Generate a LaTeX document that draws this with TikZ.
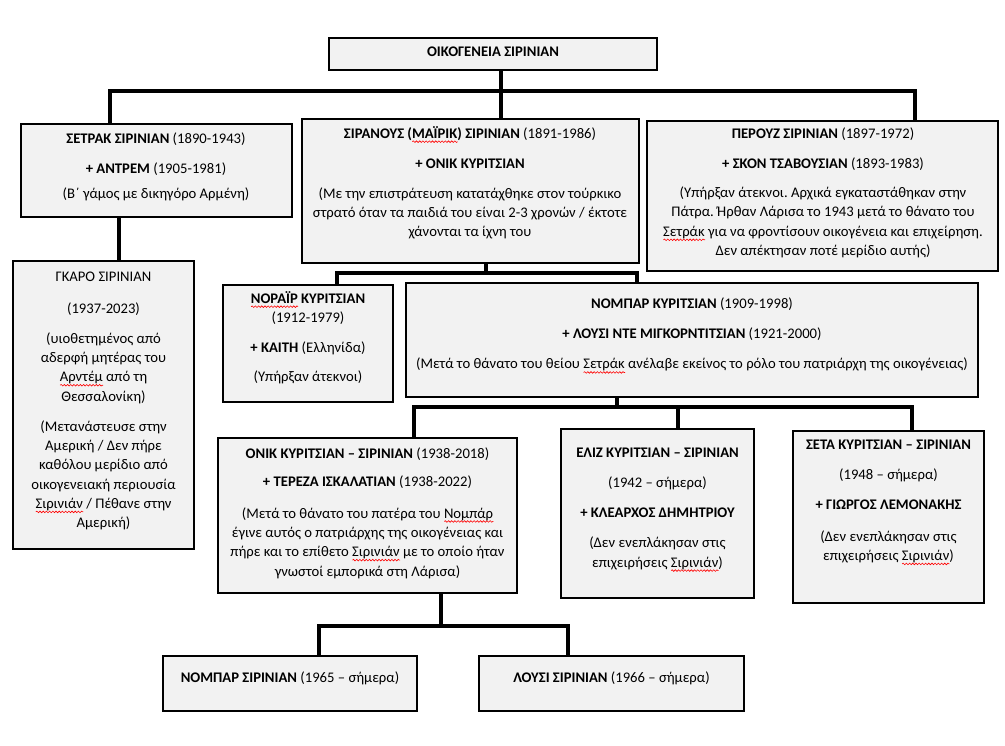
\documentclass[tikz,border=0pt]{standalone}
\usepackage{fontspec}
\setmainfont{Carlito}
\usetikzlibrary{fit,decorations.pathmorphing}
\definecolor{boxgray}{HTML}{F2F2F2}
\frenchspacing
\newsavebox\sqbox
\newcommand\spellerr[1]{\sbox\sqbox{#1}\rlap{\tikz[baseline=0pt,x=1pt,y=1pt]\draw[red, line width=0.45pt, decorate, decoration={snake, amplitude=0.6pt, segment length=2.4pt}] (0,-2.6) -- (\wd\sqbox,-2.6);}\usebox\sqbox}
\begin{document}
\begin{tikzpicture}[x=0.75pt,y=-0.75pt,
  box/.style={draw=black, line width=1pt, fill=boxgray, inner sep=0pt, outer sep=0pt},
  txt/.style={anchor=north, align=center, inner sep=0pt, font=\fontsize{11}{14.5}\selectfont\frenchspacing, execute at begin node=\strut},
  conn/.style={line width=3pt, line join=miter}]
\fill[white] (0,0) rectangle (1005,745);
\useasboundingbox (0,0) rectangle (1005,745);

% boxes
\node[box, fit={(329,38) (657,70)}] (root) {};
\node[box, fit={(21,124) (292,217)}] (setrak) {};
\node[box, fit={(302,119) (639,263)}] (siranous) {};
\node[box, fit={(647,121) (998,271)}] (perouz) {};
\node[box, fit={(13,261) (194,549)}] (garo) {};
\node[box, fit={(223,285) (393,402)}] (norair) {};
\node[box, fit={(406,283) (978,397)}] (nompar) {};
\node[box, fit={(218,438) (517,593)}] (onik) {};
\node[box, fit={(561,429) (754,598)}] (eliz) {};
\node[box, fit={(793,431) (984,603)}] (seta) {};
\node[box, fit={(163,656) (417,711)}] (ns) {};
\node[box, fit={(479,656) (744,711)}] (lousi) {};

% texts
\node[txt] (rootT) at (493,43) {\textbf{ΟΙΚΟΓΕΝΕΙΑ ΣΙΡΙΝΙΑΝ}};
\node[txt] (setrakT) at (156,133) {\textbf{ΣΕΤΡΑΚ ΣΙΡΙΝΙΑΝ} (1890-1943)\\[8pt]
  \textbf{+ ΑΝΤΡΕΜ} (1905-1981)\\[4pt]
  (Β΄ γάμος με δικηγόρο Αρμένη)};
\node[txt] (siranousT) at (470,126) {\textbf{ΣΙΡΑΝΟΥΣ (\spellerr{ΜΑΪΡΙΚ}) ΣΙΡΙΝΙΑΝ} (1891-1986)\\[8pt]
  \textbf{+ ΟΝΙΚ ΚΥΡΙΤΣΙΑΝ}\\[8pt]
  (Με την επιστράτευση κατατάχθηκε στον τούρκικο\\
  στρατό όταν τα παιδιά του είναι 2-3 χρονών / έκτοτε\\
  χάνονται τα ίχνη του};
\node[txt] (perouzT) at (823,128) {\textbf{ΠΕΡΟΥΖ ΣΙΡΙΝΙΑΝ} (1897-1972)\\[8pt]
  \textbf{+ ΣΚΟΝ ΤΣΑΒΟΥΣΙΑΝ} (1893-1983)\\[7pt]
  (Υπήρξαν άτεκνοι. Αρχικά εγκαταστάθηκαν στην\\
  Πάτρα. Ήρθαν Λάρισα το 1943 μετά το θάνατο του\\
  \spellerr{Σετράκ} για να φροντίσουν οικογένεια και επιχείρηση.\\
  Δεν απέκτησαν ποτέ μερίδιο αυτής)};
\node[txt] (garoT) at (103.5,272) {ΓΚΑΡΟ ΣΙΡΙΝΙΑΝ\\[9pt]
  (1937-2023)\\[8pt]
  (υιοθετημένος από\\
  αδερφή μητέρας του\\
  \spellerr{Αρντέμ} από τη\\
  Θεσσαλονίκη)\\[8pt]
  (Μετανάστευσε στην\\
  Αμερική / Δεν πήρε\\
  καθόλου μερίδιο από\\
  οικογενειακή περιουσία\\
  \spellerr{Σιρινιάν} / Πέθανε στην\\
  Αμερική)};
\node[txt] (norairT) at (308,291) {\textbf{\spellerr{ΝΟΡΑΪΡ} ΚΥΡΙΤΣΙΑΝ}\\
  (1912-1979)\\[8pt]
  \textbf{+ ΚΑΙΤΗ} (Ελληνίδα)\\[7pt]
  (Υπήρξαν άτεκνοι)};
\node[txt] (nomparT) at (692,298) {\textbf{ΝΟΜΠΑΡ ΚΥΡΙΤΣΙΑΝ} (1909-1998)\\[8pt]
  \textbf{+ ΛΟΥΣΙ ΝΤΕ ΜΙΓΚΟΡΝΤΙΤΣΙΑΝ} (1921-2000)\\[8pt]
  (Μετά το θάνατο του θείου \spellerr{Σετράκ} ανέλαβε εκείνος το ρόλο του πατριάρχη της οικογένειας)};
\node[txt] (onikT) at (367.5,447) {\textbf{ΟΝΙΚ ΚΥΡΙΤΣΙΑΝ – ΣΙΡΙΝΙΑΝ} (1938-2018)\\[7pt]
  \textbf{+ ΤΕΡΕΖΑ ΙΣΚΑΛΑΤΙΑΝ} (1938-2022)\\[9pt]
  (Μετά το θάνατο του πατέρα του \spellerr{Νομπάρ}\\
  έγινε αυτός ο πατριάρχης της οικογένειας και\\
  πήρε και το επίθετο \spellerr{Σιρινιάν} με το οποίο ήταν\\
  γνωστοί εμπορικά στη Λάρισα)};
\node[txt] (elizT) at (657.5,448) {\textbf{ΕΛΙΖ ΚΥΡΙΤΣΙΑΝ – ΣΙΡΙΝΙΑΝ}\\[8pt]
  (1942 – σήμερα)\\[8pt]
  \textbf{+ ΚΛΕΑΡΧΟΣ ΔΗΜΗΤΡΙΟΥ}\\[8pt]
  (Δεν ενεπλάκησαν στις\\
  επιχειρήσεις \spellerr{Σιρινιάν})};
\node[txt] (setaT) at (888.5,440) {\textbf{ΣΕΤΑ ΚΥΡΙΤΣΙΑΝ – ΣΙΡΙΝΙΑΝ}\\[8pt]
  (1948 – σήμερα)\\[8pt]
  \textbf{+ ΓΙΩΡΓΟΣ ΛΕΜΟΝΑΚΗΣ}\\[9pt]
  (Δεν ενεπλάκησαν στις\\
  επιχειρήσεις \spellerr{Σιρινιάν})};
\node[txt] (nsT) at (290,669) {\textbf{ΝΟΜΠΑΡ ΣΙΡΙΝΙΑΝ} (1965 – σήμερα)};
\node[txt] (lousiT) at (611.5,669) {\textbf{ΛΟΥΣΙ ΣΙΡΙΝΙΑΝ} (1966 – σήμερα)};

% junction coordinates
\coordinate (j1) at (501,91);
\coordinate (c1) at (110,91);
\coordinate (c2) at (915,91);
\coordinate (j2) at (486,273);
\coordinate (c3) at (337,273);
\coordinate (c4) at (637,273);
\coordinate (c5) at (119,240);
\coordinate (j3) at (617,407);
\coordinate (c6) at (414,407);
\coordinate (c7) at (912,407);
\coordinate (c8) at (678,407);
\coordinate (j4) at (441,626);
\coordinate (c9) at (319,626);
\coordinate (c10) at (568,626);

% connectors
\draw[conn] (root.south -| j1) -- (siranous.north -| j1);
\draw[conn] (setrak.north -| c1) -- (c1) -- (c2) -- (perouz.north -| c2);
\draw[conn] (setrak.south -| c5) -- (garo.north -| c5);
\draw[conn] (siranous.south -| j2) -- (j2);
\draw[conn] (norair.north -| c3) -- (c3) -- (c4) -- (nompar.north -| c4);
\draw[conn] (nompar.south -| j3) -- (j3);
\draw[conn] (onik.north -| c6) -- (c6) -- (c7) -- (seta.north -| c7);
\draw[conn] (c8) -- (eliz.north -| c8);
\draw[conn] (onik.south -| j4) -- (j4);
\draw[conn] (ns.north -| c9) -- (c9) -- (c10) -- (lousi.north -| c10);
\end{tikzpicture}
\end{document}
